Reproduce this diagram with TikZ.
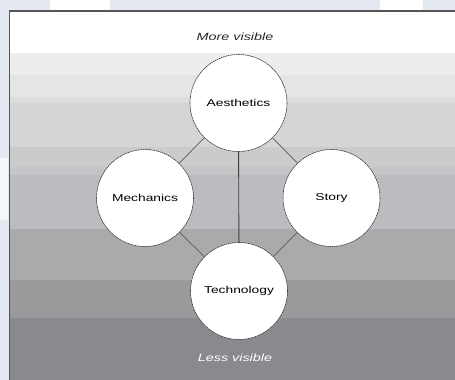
\documentclass[tikz,border=0pt]{standalone}
\usepackage{fontspec}
\newfontfamily\lblfont[FakeStretch=1.38]{Liberation Sans}
\definecolor{outerbg}{HTML}{E4E9F1}
\definecolor{bA}{HTML}{ECEDEC}
\definecolor{bB}{HTML}{E4E5E5}
\definecolor{bC}{HTML}{DCDDDD}
\definecolor{bD}{HTML}{D4D5D7}
\definecolor{bE}{HTML}{CACBCD}
\definecolor{bF}{HTML}{C4C5C7}
\definecolor{bG}{HTML}{BBBCBF}
\definecolor{bH}{HTML}{A9AAAB}
\definecolor{bI}{HTML}{9A9A9D}
\definecolor{bJ}{HTML}{898A8D}
\definecolor{framec}{HTML}{555555}
\definecolor{linkc}{HTML}{5A5A5A}
\begin{document}
\begin{tikzpicture}[x=1pt,y=-1pt,
  topic/.style={circle,fill=white,draw=black!85,line width=0.55pt,
    dash pattern=on 1.6pt off 0.6pt,minimum size=97pt,inner sep=0pt,
    font=\lblfont\fontsize{10}{11}\selectfont},
  link/.style={draw=linkc,line width=0.7pt},
  mainlink/.style={draw=black!75,line width=0.9pt},
  caption/.style={font=\lblfont\itshape\fontsize{10.4}{11}\selectfont,inner sep=0pt}]
\useasboundingbox (0,0) rectangle (455,380);
% outer background (watermark area)
\fill[outerbg] (0,0) rectangle (455,380);
\fill[white] (50,0) rectangle (110,10);
\fill[white] (380,0) rectangle (423,10);
\fill[white!60!outerbg] (0,158) rectangle (8,220);
% bands
\fill[white] (9.5,11) rectangle (455,53);
\fill[bA] (9.5,53) rectangle (455,75);
\fill[bB] (9.5,75) rectangle (455,97);
\fill[bC] (9.5,97) rectangle (455,103);
\fill[bD] (9.5,103) rectangle (455,147);
\fill[bE] (9.5,147) rectangle (455,167);
\fill[bF] (9.5,167) rectangle (455,175);
\fill[bG] (9.5,175) rectangle (455,229);
\fill[bH] (9.5,229) rectangle (455,280);
\fill[bI] (9.5,280) rectangle (455,318);
\fill[bJ] (9.5,318) rectangle (455,380);
% frame
\draw[framec,line width=1.5pt] (9.5,380) -- (9.5,11) -- (455,11);
% captions
\node[caption,text=black!85] (more) at (235,37) {More visible};
\node[caption,text=white] (less) at (235,358) {Less visible};
% connectors first (circles on top)
\coordinate (cA) at (238.5,103);
\coordinate (cM) at (145,198);
\coordinate (cS) at (331.5,198);
\coordinate (cT) at (239,291);
\draw[link] (cA) -- (cM);
\draw[link] (cA) -- (cS);
\draw[link] (cM) -- (cT);
\draw[link] (cS) -- (cT);
\draw[mainlink] (cA) -- (cT);
% topics
\node[topic] (aes) at (cA) {Aesthetics};
\node[topic] (mech) at (cM) {Mechanics};
\node[topic] (story) at (cS) {Story};
\node[topic] (tech) at (cT) {Technology};
\end{tikzpicture}
\end{document}
